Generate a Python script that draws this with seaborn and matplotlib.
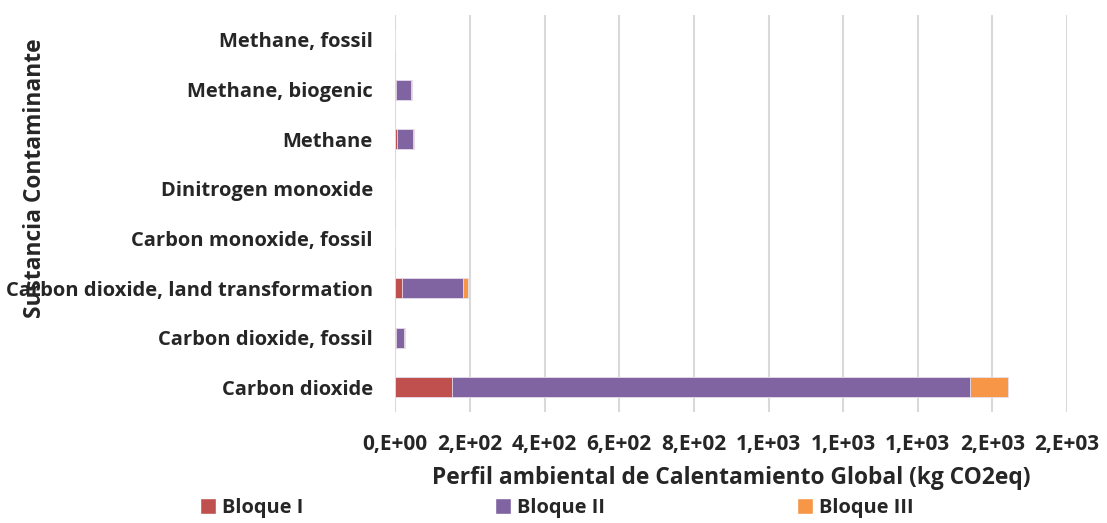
import numpy as np
import pandas as pd
import seaborn as sns
import matplotlib.pyplot as plt
from matplotlib.patches import Patch

# substances, top to bottom as shown in the chart
sustancias = ["Methane, fossil", "Methane, biogenic", "Methane",
              "Dinitrogen monoxide", "Carbon monoxide, fossil",
              "Carbon dioxide, land transformation", "Carbon dioxide, fossil",
              "Carbon dioxide"]
bloque_1 = [0, 1, 4, 0, 0, 18, 2, 152]
bloque_2 = [0, 40, 43, 0, 0, 163, 22, 1388]
bloque_3 = [0, 3, 3, 0, 0, 13, 2, 102]

ticks = [0, 200, 400, 600, 800, 1000, 1200, 1400, 1600, 1800]
tick_labels = ["0,E+00", "2,E+02", "4,E+02", "6,E+02", "8,E+02",
               "1,E+03", "1,E+03", "1,E+03", "2,E+03", "2,E+03"]

colores = {"Bloque I": "#C0504D", "Bloque II": "#8064A2", "Bloque III": "#F79646"}

df = pd.DataFrame({"Sustancia": sustancias, "Bloque I": bloque_1,
                   "Bloque II": bloque_2, "Bloque III": bloque_3})
df["c1"] = df["Bloque I"]
df["c2"] = df["c1"] + df["Bloque II"]
df["c3"] = df["c2"] + df["Bloque III"]

sns.set_style("white")
plt.rcParams["font.family"] = ["Open Sans", "DejaVu Sans"]

fig, ax = plt.subplots(figsize=(11.07, 5.23), dpi=100)
fig.subplots_adjust(left=0.357, right=0.964, top=0.971, bottom=0.212)

# stacked bars: draw cumulative totals from largest to smallest
for col, name in [("c3", "Bloque III"), ("c2", "Bloque II"), ("c1", "Bloque I")]:
    sns.barplot(data=df, x=col, y="Sustancia", order=sustancias, orient="h",
                color=colores[name], saturation=1, width=0.4,
                edgecolor="#e6e0ee", linewidth=0.6, ax=ax, zorder=3)

ax.set_xlim(0, 1800)
ax.set_xticks(ticks)
ax.set_xticklabels(tick_labels, fontsize=15, fontweight="bold")
ax.tick_params(axis="y", labelsize=14.5, length=0, pad=16)
ax.tick_params(axis="x", length=0, pad=16)
for lab in ax.get_yticklabels():
    lab.set_fontweight("bold")
ax.grid(axis="x", color="#d9d9d9", linewidth=1.5, zorder=0)
ax.grid(axis="y", visible=False)
for s in ax.spines.values():
    s.set_visible(False)

ax.set_xlabel("Perfil ambiental de Calentamiento Global (kg CO2eq)",
              fontsize=16.4, fontweight="bold", labelpad=8)
ax.set_ylabel("")
fig.text(0.032, 0.66, "Sustancia Contaminante", rotation=90, ha="center",
         va="center", fontsize=16.4, fontweight="bold")

handles = [Patch(facecolor=colores[k], label=k) for k in colores]
fig.legend(handles=handles, loc="lower center", ncol=3, frameon=False,
           bbox_to_anchor=(0.503, -0.025), handlelength=0.8, handleheight=0.8,
           handletextpad=0.3, columnspacing=9.6,
           prop={"size": 14.4, "weight": "bold"})

fig.savefig("out.png", dpi=100)
